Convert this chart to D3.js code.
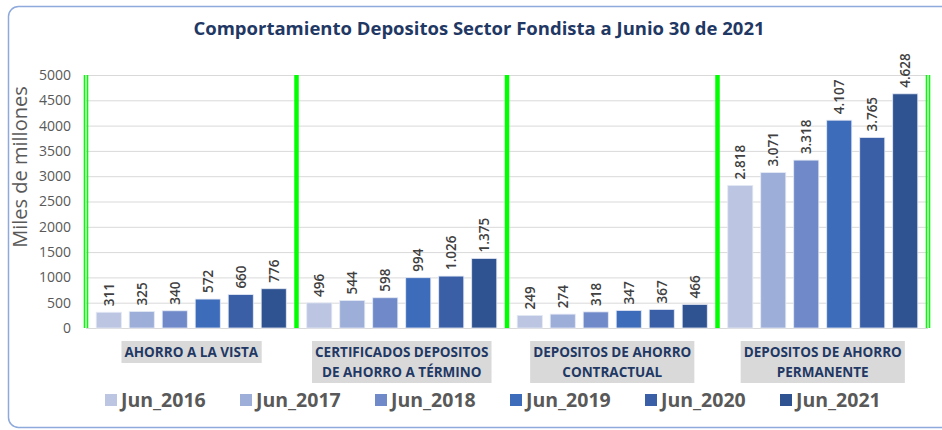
<meta charset="utf-8">
<script src="https://d3js.org/d3.v7.min.js"></script>
<body style="margin:0">
<script>
    // Data
    var categories = [
        ["AHORRO A LA VISTA"],
        ["CERTIFICADOS DEPOSITOS", "DE AHORRO A TÉRMINO"],
        ["DEPOSITOS DE AHORRO", "CONTRACTUAL"],
        ["DEPOSITOS DE AHORRO", "PERMANENTE"]
    ];
    var seriesNames = ["Jun_2016", "Jun_2017", "Jun_2018", "Jun_2019", "Jun_2020", "Jun_2021"];
    var jun2016 = [311, 496, 249, 2818];
    var jun2017 = [325, 544, 274, 3071];
    var jun2018 = [340, 598, 318, 3318];
    var jun2019 = [572, 994, 347, 4107];
    var jun2020 = [660, 1026, 367, 3765];
    var jun2021 = [776, 1375, 466, 4628];
    var yTicks = [0, 500, 1000, 1500, 2000, 2500, 3000, 3500, 4000, 4500, 5000];

    var seriesValues = [jun2016, jun2017, jun2018, jun2019, jun2020, jun2021];
    var colors = ["#BCC6E3", "#9DAED9", "#6F89C9", "#3D6DBA", "#3A5FA6", "#2F5290"];

    // SVG dimensions
    var SVGWidth = 942, SVGHeight = 430;
    var plot = {left: 86, right: 928, top: 75, bottom: 328};

    var svg = d3.select("body").append("svg")
        .attr("width", SVGWidth)
        .attr("height", SVGHeight)
        .style("display", "block")
        .style("background", "white");

    // frame
    svg.append("rect")
        .attr("x", 8.5).attr("y", 6.5)
        .attr("width", 950).attr("height", 421)
        .attr("rx", 10)
        .attr("fill", "white")
        .attr("stroke", "#8EA9DB")
        .attr("stroke-width", 1.5);

    // Scales
    var catIdx = d3.range(categories.length);
    var x0 = d3.scaleBand().domain(catIdx).range([plot.left, plot.right]);
    var x1 = d3.scaleBand().domain(d3.range(seriesNames.length))
        .range([0, x0.bandwidth()]).paddingInner(0.24).paddingOuter(0.31);
    var y = d3.scaleLinear().domain([0, 5000]).range([plot.bottom, plot.top]);
    var fmt = d3.formatLocale({decimal: ",", thousands: ".", grouping: [3], currency: ["$", ""]}).format(",d");

    // Title
    svg.append("text")
        .attr("x", 479).attr("y", 35)
        .attr("text-anchor", "middle")
        .style("font", "bold 18.5px 'Open Sans'")
        .attr("fill", "#1F3864")
        .text("Comportamiento Depositos Sector Fondista a Junio 30 de 2021");

    // Grid
    svg.append("g")
        .attr("class", "grid")
        .attr("transform", "translate(" + plot.left + ",0)")
        .call(d3.axisLeft(y).tickValues(yTicks).tickSize(-(plot.right - plot.left)).tickFormat(""))
        .call(function(g) { g.select(".domain").remove(); });

    // Y axis labels
    svg.append("g")
        .attr("transform", "translate(" + plot.left + ",0)")
        .call(d3.axisLeft(y).tickValues(yTicks).tickSize(0).tickPadding(15).tickFormat(d3.format("d")))
        .call(function(g) {
            g.select(".domain").remove();
            g.selectAll("text").style("font", "14px 'Open Sans'").attr("fill", "#595959");
        });

    svg.append("text")
        .attr("transform", "translate(27,167) rotate(-90)")
        .attr("text-anchor", "middle")
        .style("font", "20px 'Open Sans'")
        .attr("fill", "#595959")
        .text("Miles de millones");

    // Bars
    var groups = svg.selectAll(".cat")
        .data(catIdx)
        .enter().append("g")
        .attr("transform", function(c) { return "translate(" + x0(c) + ",0)"; });

    groups.selectAll("rect")
        .data(function(c) { return seriesValues.map(function(s, i) { return {i: i, v: s[c]}; }); })
        .enter().append("rect")
        .attr("x", function(d) { return x1(d.i); })
        .attr("y", function(d) { return y(d.v); })
        .attr("width", x1.bandwidth())
        .attr("height", function(d) { return y(0) - y(d.v); })
        .attr("fill", function(d) { return colors[d.i]; })
        .attr("stroke", "#E4E9F4")
        .attr("stroke-width", 0.8);

    // Value labels
    groups.selectAll(".lbl")
        .data(function(c) { return seriesValues.map(function(s, i) { return {i: i, v: s[c]}; }); })
        .enter().append("text")
        .attr("transform", function(d) {
            return "translate(" + (x1(d.i) + x1.bandwidth() / 2 + 5) + "," + (y(d.v) - 6) + ") rotate(-90)";
        })
        .style("font", "600 13.5px 'Open Sans'")
        .attr("fill", "#404040")
        .text(function(d) { return fmt(d.v); });

    // Green separators
    d3.range(categories.length + 1).forEach(function(b) {
        var bx = b < categories.length ? x0(b) : plot.right;
        var offs = (b === 0 || b === categories.length) ? [-1.5, 1.5] : [0];
        var w = offs.length === 2 ? 1.6 : 4.5;
        offs.forEach(function(o) {
            svg.append("line")
                .attr("x1", bx + o).attr("x2", bx + o)
                .attr("y1", plot.top).attr("y2", plot.bottom)
                .attr("stroke", "#00FF00")
                .attr("stroke-width", w);
        });
    });

    // Category labels with grey boxes
    groups.each(function(c) {
        var g = d3.select(this);
        var cx = x0.bandwidth() / 2;
        var lines = categories[c];
        var box = g.append("rect").attr("fill", "#D9D9D9");
        var t = g.append("text")
            .attr("text-anchor", "middle")
            .style("font", "bold 13.5px 'Open Sans'")
            .attr("fill", "#1F3864");
        lines.forEach(function(l, k) {
            t.append("tspan").attr("x", cx).attr("y", 357 + k * 20).text(l);
        });
        var bb = t.node().getBBox();
        box.attr("x", bb.x - 3).attr("y", 341)
            .attr("width", bb.width + 6)
            .attr("height", lines.length * 20 + 2);
    });

    // Legend
    var legend = svg.selectAll(".legend")
        .data(seriesNames)
        .enter().append("g")
        .attr("transform", function(d, i) { return "translate(" + (105 + i * 135) + ",394)"; });

    legend.append("rect")
        .attr("width", 12).attr("height", 12)
        .attr("fill", function(d, i) { return colors[i]; });

    legend.append("text")
        .attr("x", 16).attr("y", 13)
        .style("font", "bold 19.5px 'Open Sans'")
        .attr("fill", "#595959")
        .text(function(d) { return d; });
</script>
</body>

<style>
    .grid line {
        stroke: #D9D9D9;
    }
</style>
